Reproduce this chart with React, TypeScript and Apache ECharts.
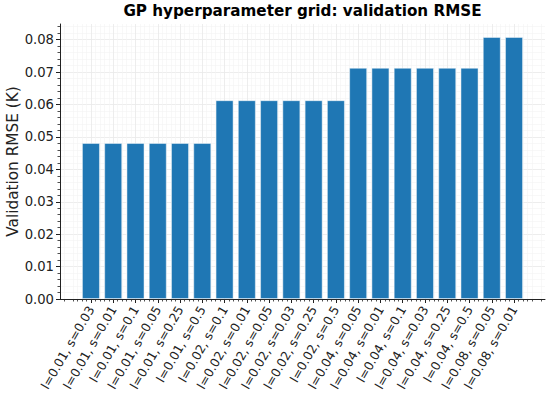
import React, { useEffect, useRef } from "react";
import * as echarts from "echarts";

const categories = [
  "l=0.01, s=0.03",
  "l=0.01, s=0.01",
  "l=0.01, s=0.1",
  "l=0.01, s=0.05",
  "l=0.01, s=0.25",
  "l=0.01, s=0.5",
  "l=0.02, s=0.1",
  "l=0.02, s=0.01",
  "l=0.02, s=0.05",
  "l=0.02, s=0.03",
  "l=0.02, s=0.25",
  "l=0.02, s=0.5",
  "l=0.04, s=0.05",
  "l=0.04, s=0.01",
  "l=0.04, s=0.1",
  "l=0.04, s=0.03",
  "l=0.04, s=0.25",
  "l=0.04, s=0.5",
  "l=0.08, s=0.05",
  "l=0.08, s=0.01",
];

const rmse = [
  0.0481, 0.0481, 0.0481, 0.0481, 0.0481, 0.0481,
  0.0613, 0.0613, 0.0613, 0.0613, 0.0613, 0.0613,
  0.0713, 0.0713, 0.0713, 0.0713, 0.0713, 0.0713,
  0.0808, 0.0808,
];

const yMajorTicks = [0, 0.01, 0.02, 0.03, 0.04, 0.05, 0.06, 0.07, 0.08];

const TITLE = "GP hyperparameter grid: validation RMSE";
const Y_LABEL = "Validation RMSE (K)";

export default function App() {
  const ref = useRef<HTMLDivElement>(null);

  useEffect(() => {
    if (!ref.current) return;
    const chart = echarts.init(ref.current, null, { renderer: "svg" });

    const n = categories.length;
    // matplotlib-like 5% margins around bars of width 0.8
    const span = n - 1 + 0.8;
    const xMin = -0.4 - span * 0.05;
    const xMax = n - 1 + 0.4 + span * 0.05;
    const yMax = Math.max(...rmse) * 1.05;

    const majorX = categories.map((_, i) => i);
    const minorX: number[] = [];
    for (let k = Math.ceil(xMin / 0.2); k * 0.2 <= xMax; k++) {
      if (k % 5 !== 0) minorX.push(Math.round(k * 0.2 * 1000) / 1000);
    }
    const minorY: number[] = [];
    for (let k = 0; k * 0.002 <= yMax; k++) {
      if (k % 5 !== 0) minorY.push(Math.round(k * 0.002 * 10000) / 10000);
    }

    const plotLeft = 60;
    const plotRight = 5;
    const plotWidth = 550 - plotLeft - plotRight;
    const unitPx = plotWidth / (xMax - xMin);

    const axisColor = "#222222";
    const majorGrid = "#e9e9e9";
    const minorGrid = "#f4f4f4";
    const font = "DejaVu Sans";

    chart.setOption({
      animation: false,
      backgroundColor: "#ffffff",
      graphic: [
        {
          type: "text",
          x: plotLeft + plotWidth / 2,
          y: 3,
          style: {
            text: TITLE,
            textAlign: "center",
            textVerticalAlign: "top",
            fontFamily: font,
            fontWeight: "bold",
            fontSize: 15.2,
            fill: "#000000",
          },
        },
      ],
      grid: {
        left: plotLeft,
        right: plotRight,
        top: 24,
        bottom: 104,
        containLabel: false,
        outerBoundsMode: "none",
      },
      xAxis: [
        {
          type: "value",
          min: xMin,
          max: xMax,
          position: "bottom",
          axisLine: { show: true, onZero: false, lineStyle: { color: axisColor, width: 1 } },
          axisTick: {
            show: true,
            customValues: majorX,
            length: 4,
            lineStyle: { color: axisColor, width: 1 },
          },
          axisLabel: {
            show: true,
            customValues: majorX,
            formatter: (v: number) => categories[Math.round(v)] ?? "",
            rotate: 60,
            margin: 8,
            fontFamily: font,
            fontSize: 12.4,
            color: "#222222",
          },
          splitLine: { show: true, lineStyle: { color: majorGrid, width: 0.8 } },
        },
        {
          type: "value",
          min: xMin,
          max: xMax,
          position: "bottom",
          axisLine: { show: false, onZero: false },
          axisTick: {
            show: true,
            customValues: minorX,
            length: 2.5,
            lineStyle: { color: axisColor, width: 0.8 },
          },
          axisLabel: { show: false },
          splitLine: { show: true, lineStyle: { color: minorGrid, width: 0.6 } },
        },
      ],
      yAxis: [
        {
          type: "value",
          min: 0,
          max: yMax,
          position: "left",
          name: Y_LABEL,
          nameLocation: "middle",
          nameGap: 40,
          nameMoveOverlap: false,
          nameTextStyle: { fontFamily: font, fontSize: 15.3, color: "#222222" },
          axisLine: { show: true, onZero: false, lineStyle: { color: axisColor, width: 1 } },
          axisTick: {
            show: true,
            customValues: yMajorTicks,
            length: 4,
            lineStyle: { color: axisColor, width: 1 },
          },
          axisLabel: {
            show: true,
            customValues: yMajorTicks,
            formatter: (v: number) => v.toFixed(2),
            margin: 6,
            fontFamily: font,
            fontSize: 13.2,
            color: "#222222",
          },
          splitLine: { show: true, lineStyle: { color: majorGrid, width: 0.8 } },
        },
        {
          type: "value",
          min: 0,
          max: yMax,
          position: "left",
          axisLine: { show: false, onZero: false },
          axisTick: {
            show: true,
            customValues: minorY,
            length: 2.5,
            lineStyle: { color: axisColor, width: 0.8 },
          },
          axisLabel: { show: false },
          splitLine: { show: true, lineStyle: { color: minorGrid, width: 0.6 } },
        },
      ],
      series: [
        {
          type: "bar",
          xAxisIndex: 0,
          yAxisIndex: 0,
          data: rmse.map((v, i) => [i, v]),
          barWidth: 0.8 * unitPx,
          itemStyle: {
            color: "#1f77b4",
            borderColor: "rgba(255,255,255,0.55)",
            borderWidth: 0.8,
          },
          z: 3,
        },
      ],
    });

    return () => chart.dispose();
  }, []);

  return (
    <div
      ref={ref}
      style={{ position: "fixed", left: 0, top: 0, width: 550, height: 403 }}
    />
  );
}
